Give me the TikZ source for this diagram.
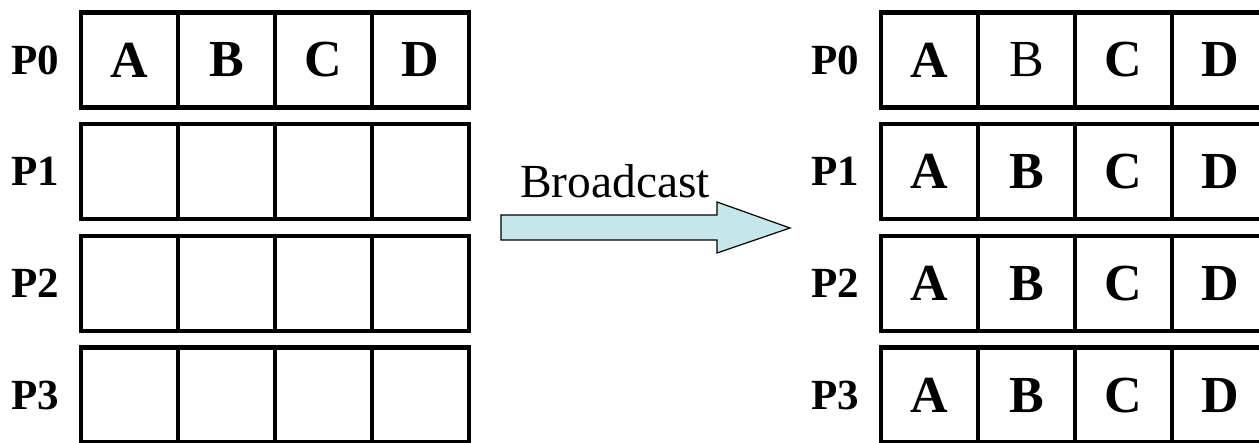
\documentclass[tikz,border=0pt]{standalone}
\usepackage{fontspec}
\setmainfont{Liberation Serif}
\begin{document}
\begin{tikzpicture}[x=1pt,y=-1pt,
  cell/.style={draw=black,line width=4.5pt,minimum width=97pt,minimum height=95pt,inner sep=0pt,
    font=\fontsize{52}{52}\selectfont\bfseries},
  plain/.style={font=\fontsize{52}{52}\selectfont\mdseries},
  plabel/.style={inner sep=0pt,font=\fontsize{43}{43}\selectfont\bfseries},
  bcast/.style={draw=black,line width=1.2pt,fill=arrowfill}]
\definecolor{arrowfill}{HTML}{C6E7EA}
\useasboundingbox (0,0) rectangle (1259,443);
\clip (0,0) rectangle (1259,443);
\fill[white] (0,0) rectangle (1259,443);
% left grid
\foreach \r in {0,1,2,3}{
  \pgfmathsetmacro{\yc}{60+111.7*\r}
  \node[plabel] (LP\r) at (35,\yc) {P\r};
  \foreach \c in {0,1,2,3}{
    \pgfmathsetmacro{\xc}{129.5+97*\c}
    \ifnum\r=0
      \node[cell] (L\r\c) at (\xc,\yc) {\ifcase\c A\or B\or C\or D\fi};
    \else
      \node[cell] (L\r\c) at (\xc,\yc) {};
    \fi
  }
}
% right grid
\foreach \r in {0,1,2,3}{
  \pgfmathsetmacro{\yc}{60+111.7*\r}
  \node[plabel] (RP\r) at (835,\yc) {P\r};
  \foreach \c/\t in {0/A,1/B,2/C,3/D}{
    \pgfmathsetmacro{\xc}{929.5+97*\c}
    \ifnum\r\c=1
      \node[cell,plain] (R\r\c) at (\xc,\yc) {\t};
    \else
      \node[cell] (R\r\c) at (\xc,\yc) {\t};
    \fi
  }
}
% arrow
\coordinate (a1) at (501,215);
\coordinate (a2) at (717,215);
\coordinate (a3) at (717,202);
\coordinate (a4) at (790,228);
\coordinate (a5) at (717,253);
\coordinate (a6) at (717,240);
\coordinate (a7) at (501,240);
\draw[bcast] (a1) -- (a2) -- (a3) -- (a4) -- (a5) -- (a6) -- (a7) -- cycle;
\node[anchor=base west,inner sep=0pt,font=\fontsize{47.5}{47.5}\selectfont] (bc) at (520,198) {Broadcast};
\end{tikzpicture}
\end{document}
